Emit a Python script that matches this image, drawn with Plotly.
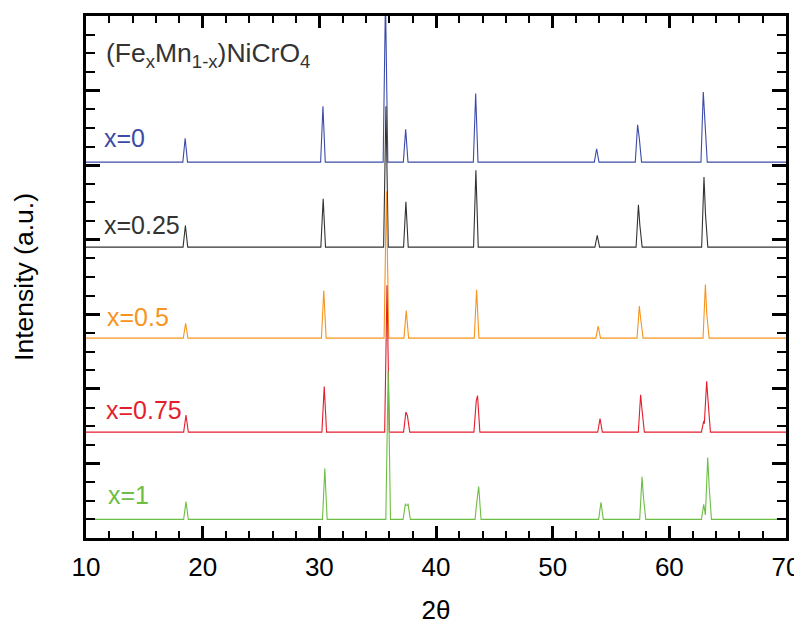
import plotly.graph_objects as go

# ---- data ----
series_labels = ["x=0", "x=0.25", "x=0.5", "x=0.75", "x=1"]
series_colors = ["#3B4CA8", "#333333", "#F7941D", "#E31E2D", "#6DBE45"]
baseline_offsets = [5.04, 3.90, 2.68, 1.42, 0.25]

# peak positions (2theta) and heights (a.u.) for each composition
pos_x0 = [18.50, 30.31, 35.67, 37.40, 43.40, 53.77, 57.28, 57.42, 62.91, 63.05]
hgt_x0 = [0.32, 0.75, 2.20, 0.44, 0.92, 0.18, 0.50, 0.33, 0.94, 0.55]

pos_x025 = [18.52, 30.33, 35.71, 37.42, 43.42, 53.82, 57.35, 57.47, 62.97, 63.10]
hgt_x025 = [0.29, 0.65, 1.89, 0.61, 1.03, 0.16, 0.57, 0.30, 0.94, 0.44]

pos_x05 = [18.54, 30.38, 35.75, 37.45, 43.48, 53.90, 57.43, 57.55, 63.09, 63.21]
hgt_x05 = [0.20, 0.64, 1.97, 0.37, 0.65, 0.16, 0.43, 0.25, 0.72, 0.32]

pos_x075 = [18.57, 30.42, 35.80, 37.42, 37.55, 43.45, 43.56, 54.06, 57.54, 57.66, 62.95, 63.20, 63.32]
hgt_x075 = [0.23, 0.61, 1.97, 0.27, 0.22, 0.42, 0.49, 0.18, 0.50, 0.30, 0.15, 0.68, 0.42]

pos_x1 = [18.57, 30.47, 35.90, 37.38, 37.60, 43.55, 43.66, 54.14, 57.66, 57.78, 62.95, 63.29, 63.41]
hgt_x1 = [0.24, 0.68, 1.99, 0.21, 0.21, 0.33, 0.44, 0.23, 0.57, 0.30, 0.20, 0.83, 0.45]

peak_positions = [pos_x0, pos_x025, pos_x05, pos_x075, pos_x1]
peak_heights = [hgt_x0, hgt_x025, hgt_x05, hgt_x075, hgt_x1]

x_tick_vals = [10, 20, 30, 40, 50, 60, 70]
title_text = "(Fe<sub>x</sub>Mn<sub>1-x</sub>)NiCrO<sub>4</sub>"

HALF_WIDTH = 0.2
FONT = "Arial, Liberation Sans, sans-serif"


def pattern(positions, heights, base):
    xs = {10.0, 70.0}
    for p in positions:
        xs.update([p - HALF_WIDTH, p, p + HALF_WIDTH])
    xs = sorted(xs)
    ys = []
    for x in xs:
        v = 0.0
        for p, h in zip(positions, heights):
            d = abs(x - p)
            if d < HALF_WIDTH:
                v = max(v, h * (1 - d / HALF_WIDTH))
        ys.append(base + v)
    return xs, ys


fig = go.Figure()
for lab, col, base, pos, hgt in zip(series_labels, series_colors, baseline_offsets,
                                      peak_positions, peak_heights):
    xs, ys = pattern(pos, hgt, base)
    fig.add_trace(go.Scatter(x=xs, y=ys, mode="lines", name=lab,
                             line=dict(color=col, width=1.1), showlegend=False))

label_y = [5.37, 4.20, 2.97, 1.71, 0.57]
label_x = [11.4, 11.4, 11.6, 11.5, 11.7]
for lab, col, lx, ly in zip(series_labels, series_colors, label_x, label_y):
    fig.add_annotation(x=lx, y=ly, xref="x", yref="y", text=lab, showarrow=False,
                       xanchor="left", yanchor="middle",
                       font=dict(family=FONT, size=25, color=col))

fig.add_annotation(x=11.5, y=6.48, xref="x", yref="y", text=title_text, showarrow=False,
                   xanchor="left", yanchor="middle",
                   font=dict(family=FONT, size=26.5, color="#333333"))

axis_common = dict(showgrid=False, zeroline=False, showline=True, linecolor="black",
                   linewidth=2.5, mirror="allticks", ticks="inside", tickcolor="black",
                   tickwidth=2.5)

fig.update_xaxes(range=[10, 70], tickvals=x_tick_vals, ticklen=12, ticklabelstandoff=4,
                 minor=dict(ticks="inside", dtick=2, ticklen=7, tickwidth=2, tickcolor="black"),
                 tickfont=dict(family=FONT, size=26, color="black"),
                 title=dict(text="2θ", font=dict(family=FONT, size=26, color="black"),
                            standoff=20),
                 **axis_common)
fig.update_yaxes(range=[0, 7], dtick=1, ticklen=14, showticklabels=False,
                 minor=dict(ticks="inside", dtick=0.25, ticklen=9, tickwidth=2, tickcolor="black"),
                 title=dict(text="Intensity (a.u.)",
                            font=dict(family=FONT, size=26.5, color="black"),
                            standoff=42),
                 **axis_common)

# the page adds an 8px body margin, so margins are shifted to land the plot frame
fig.update_layout(width=802, height=629, margin=dict(l=78, r=24, t=5, b=99),
                  plot_bgcolor="white", paper_bgcolor="white")

fig.write_html("out.html")
